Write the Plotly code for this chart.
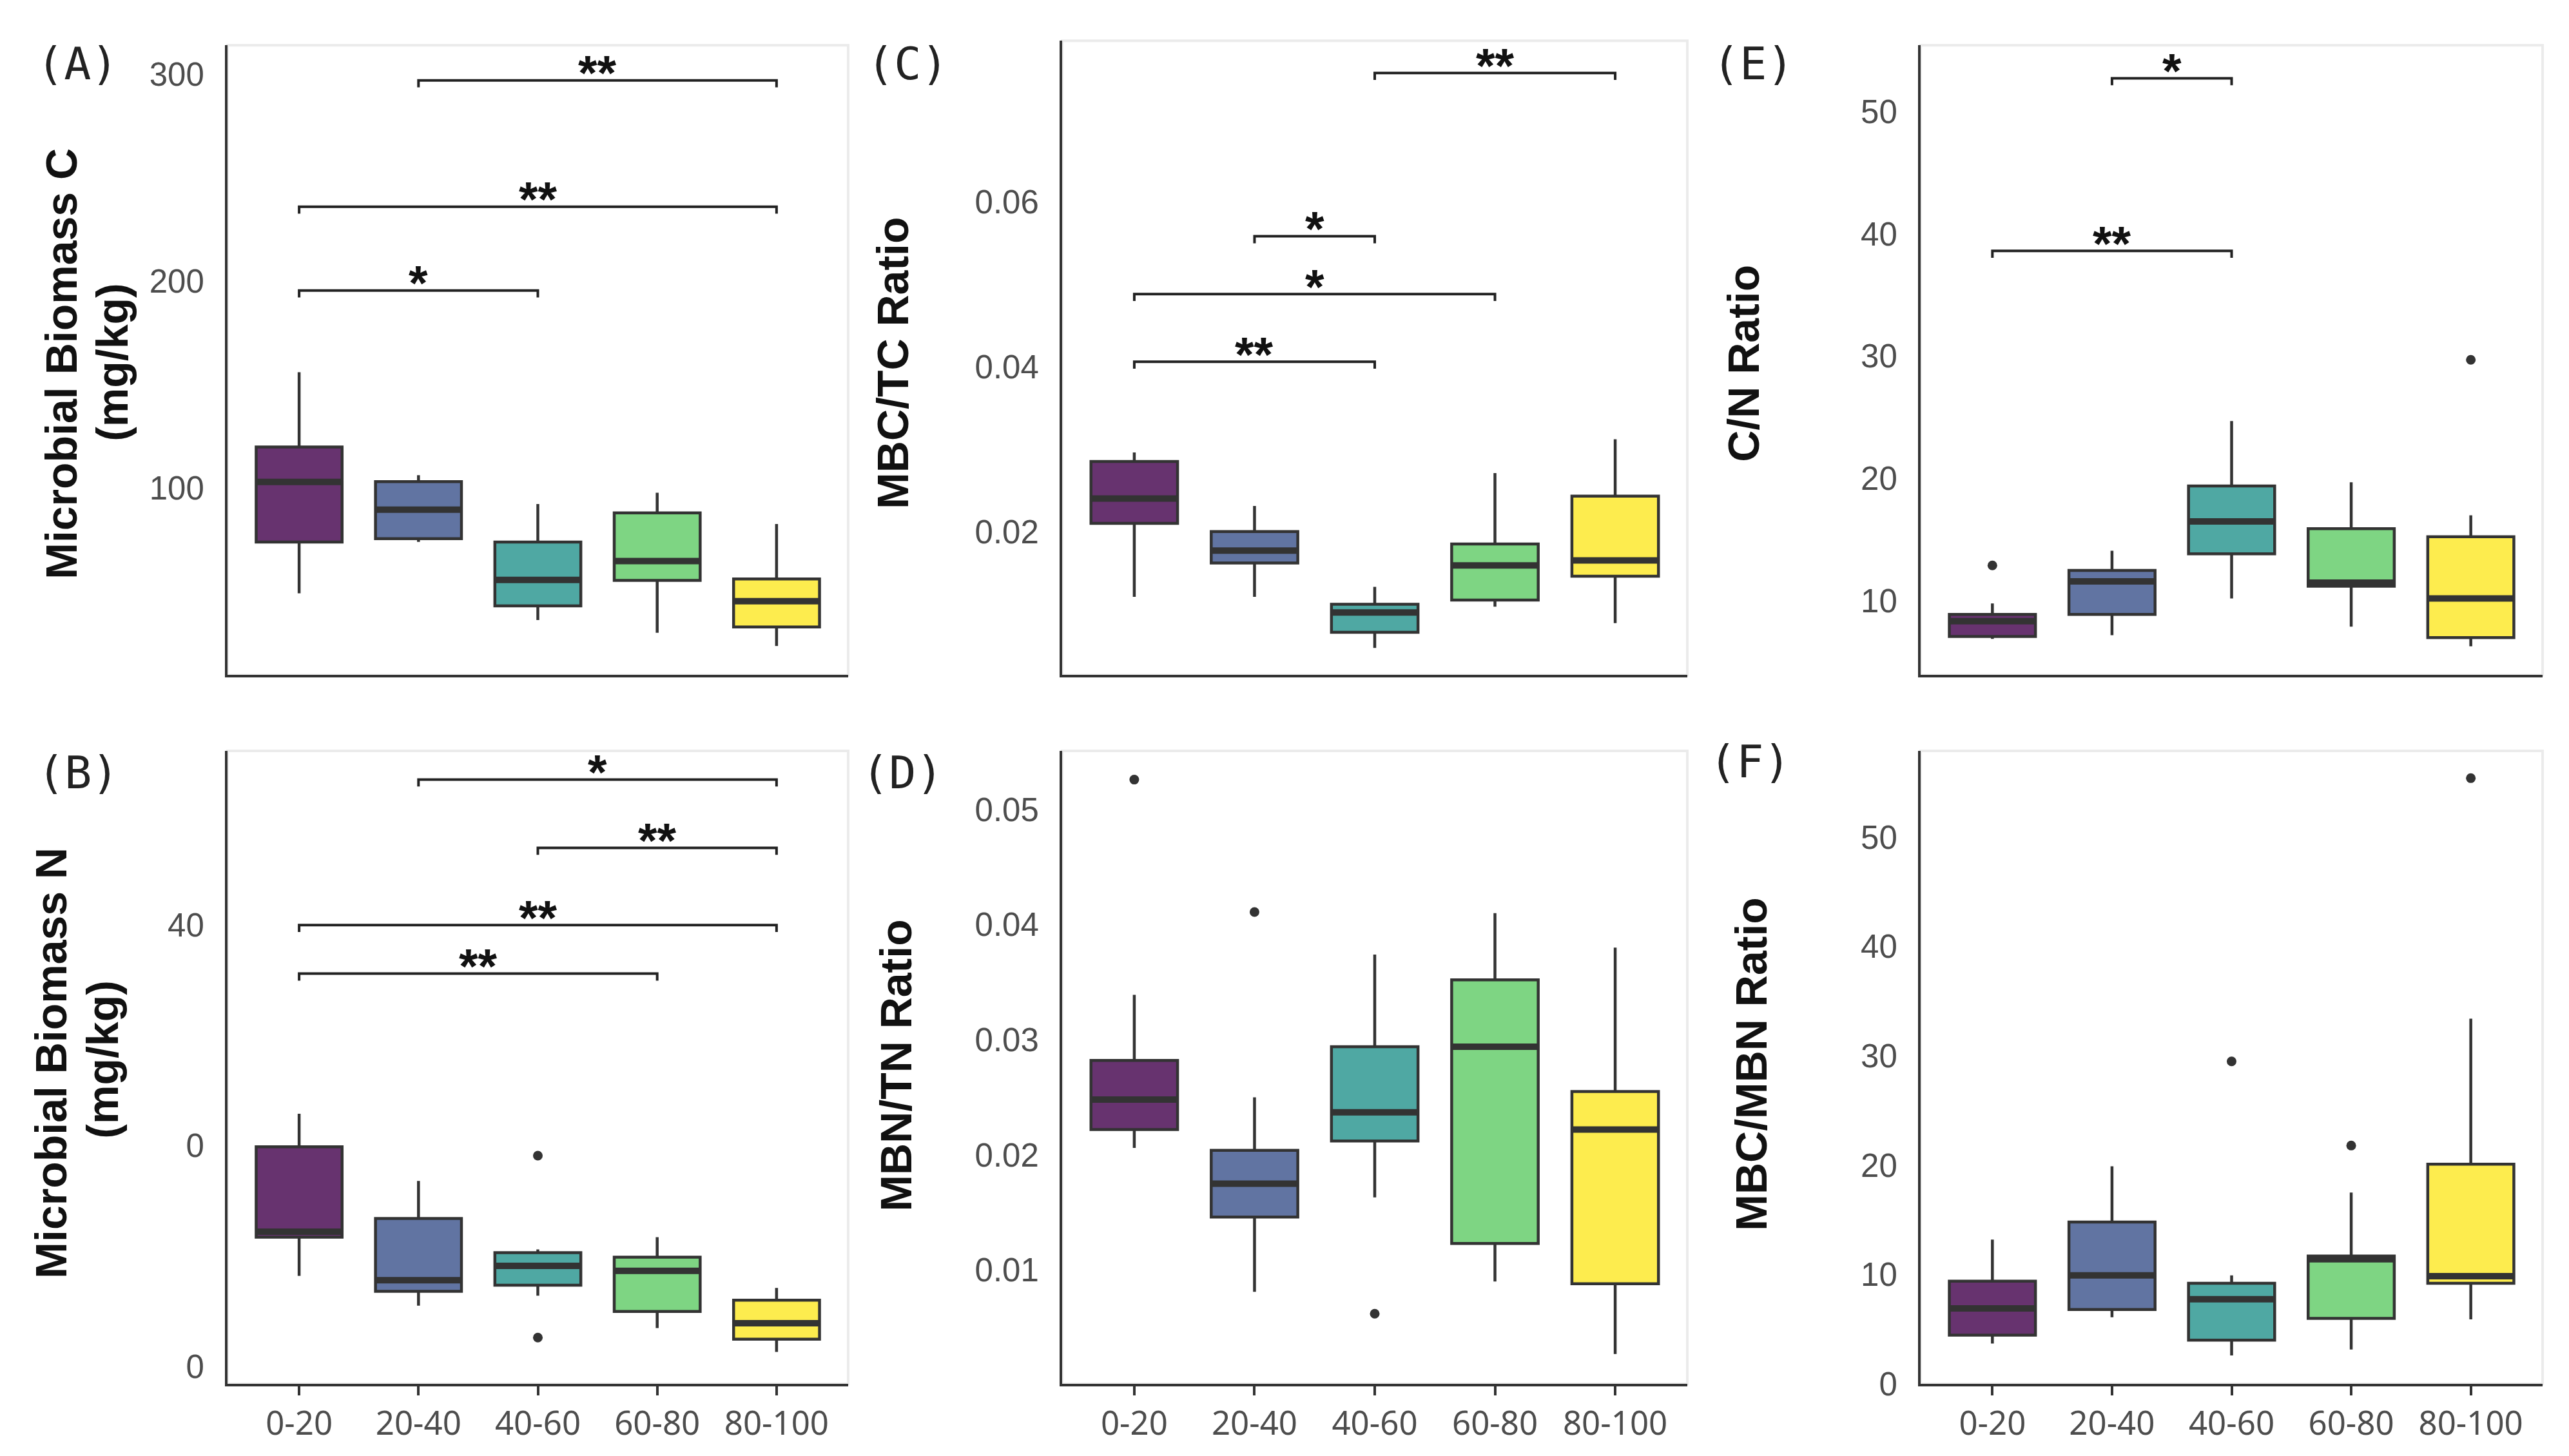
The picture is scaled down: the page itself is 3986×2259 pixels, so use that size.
import plotly.graph_objects as go

# depth classes (cm)
depths = ["0-20", "20-40", "40-60", "60-80", "80-100"]
box_colors = ["#67336f", "#6174a2", "#4fa8a3", "#7ed583", "#fdec4e"]

# (A) Microbial biomass C (mg/kg): box stats per depth
mbc_low = [49.2, 74.1, 36.3, 30.2, 23.8]
mbc_q1 = [74.0, 75.6, 43.2, 55.5, 33.0]
mbc_med = [103.0, 89.6, 55.7, 64.8, 45.4]
mbc_q3 = [119.9, 103.2, 74.0, 88.1, 56.2]
mbc_high = [156.0, 106.3, 92.4, 97.8, 82.7]
mbc_out_x = []
mbc_out_y = []
mbc_sig = [(1, 4, 297.0, "**"), (0, 4, 236.0, "**"), (0, 2, 195.5, "*")]

# (B) Microbial biomass N (mg/kg)
mbn_low = [8.2, 5.5, 6.4, 3.46, 1.3]
mbn_q1 = [11.7, 6.8, 7.35, 4.97, 2.46]
mbn_med = [12.2, 7.8, 9.1, 8.65, 3.9]
mbn_q3 = [19.9, 13.4, 10.3, 9.9, 6.0]
mbn_high = [22.9, 16.8, 10.6, 11.7, 7.1]
mbn_out_x = [2, 2]
mbn_out_y = [19.1, 2.6]
mbn_sig = [(1, 4, 53.2, "*"), (2, 4, 47.0, "**"), (0, 4, 40.0, "**"), (0, 3, 35.6, "**")]

# (C) MBC/TC ratio
mbctc_low = [0.0121, 0.0121, 0.0059, 0.0109, 0.0089]
mbctc_q1 = [0.0210, 0.0162, 0.0078, 0.0117, 0.0146]
mbctc_med = [0.0240, 0.0177, 0.0102, 0.0159, 0.0165]
mbctc_q3 = [0.0285, 0.0200, 0.0112, 0.0185, 0.0243]
mbctc_high = [0.0296, 0.0231, 0.0133, 0.0271, 0.0312]
mbctc_out_x = []
mbctc_out_y = []
mbctc_sig = [(2, 4, 0.0756, "**"), (1, 2, 0.0558, "*"), (0, 3, 0.0488, "*"), (0, 2, 0.0406, "**")]

# (D) MBN/TN ratio
mbntn_low = [0.0206, 0.0081, 0.0163, 0.0090, 0.0027]
mbntn_q1 = [0.0222, 0.0146, 0.0212, 0.0123, 0.0088]
mbntn_med = [0.0248, 0.0175, 0.0237, 0.0294, 0.0222]
mbntn_q3 = [0.0282, 0.0204, 0.0294, 0.0352, 0.0255]
mbntn_high = [0.0339, 0.0250, 0.0374, 0.0410, 0.0380]
mbntn_out_x = [0, 1, 2]
mbntn_out_y = [0.0526, 0.0411, 0.0062]
mbntn_sig = []

# (E) C/N ratio
cn_low = [6.9, 7.2, 10.2, 7.9, 6.3]
cn_q1 = [7.1, 8.9, 13.85, 11.2, 7.0]
cn_med = [8.35, 11.6, 16.5, 11.5, 10.2]
cn_q3 = [8.9, 12.5, 19.4, 15.9, 15.25]
cn_high = [9.8, 14.1, 24.7, 19.7, 17.0]
cn_out_x = [0, 4]
cn_out_y = [12.9, 29.7]
cn_sig = [(1, 2, 52.7, "*"), (0, 2, 38.6, "**")]

# (F) MBC/MBN ratio
cnmb_low = [3.7, 6.1, 2.6, 3.15, 5.9]
cnmb_q1 = [4.46, 6.8, 4.0, 6.0, 9.2]
cnmb_med = [6.9, 9.93, 7.75, 11.4, 9.85]
cnmb_q3 = [9.4, 14.8, 9.2, 11.7, 20.1]
cnmb_high = [13.2, 19.9, 9.93, 17.5, 33.4]
cnmb_out_x = [2, 3, 4]
cnmb_out_y = [29.5, 21.8, 55.4]
cnmb_sig = []

# y ticks
mbc_ticks = [100, 200, 300]
mbc_ticktext = ["100", "200", "300"]
mbn_ticks = [0, 20, 40]
mbn_ticktext = ["0", "0", "40"]
mbctc_ticks = [0.02, 0.04, 0.06]
mbctc_ticktext = ["0.02", "0.04", "0.06"]
mbntn_ticks = [0.01, 0.02, 0.03, 0.04, 0.05]
mbntn_ticktext = ["0.01", "0.02", "0.03", "0.04", "0.05"]
cn_ticks = [10, 20, 30, 40, 50]
cn_ticktext = ["10", "20", "30", "40", "50"]
cnmb_ticks = [0, 10, 20, 30, 40, 50]
cnmb_ticktext = ["0", "10", "20", "30", "40", "50"]

W, H = 3986, 2259
cols = [(345, 1308), (1640, 2610), (2972, 3937)]
rows = [(63, 1053), (1172, 2167)]

panels = [
    dict(letter="(A)", title=["Microbial Biomass C", "(mg/kg)"], col=0, row=0,
         low=mbc_low, q1=mbc_q1, med=mbc_med, q3=mbc_q3, high=mbc_high,
         ox=mbc_out_x, oy=mbc_out_y, sig=mbc_sig, yr=[9.7, 314],
         tv=mbc_ticks, tt=mbc_ticktext, tpos=[(87, 564), (166, 561)], lpos=(112, 92)),
    dict(letter="(C)", title=["MBC/TC Ratio"], col=1, row=0,
         low=mbctc_low, q1=mbctc_q1, med=mbctc_med, q3=mbctc_q3, high=mbctc_high,
         ox=mbctc_out_x, oy=mbctc_out_y, sig=mbctc_sig, yr=[0.0026, 0.0795],
         tv=mbctc_ticks, tt=mbctc_ticktext, tpos=[(1377, 563)], lpos=(1400, 92)),
    dict(letter="(E)", title=["C/N Ratio"], col=2, row=0,
         low=cn_low, q1=cn_q1, med=cn_med, q3=cn_q3, high=cn_high,
         ox=cn_out_x, oy=cn_out_y, sig=cn_sig, yr=[3.94, 55.4],
         tv=cn_ticks, tt=cn_ticktext, tpos=[(2697, 563)], lpos=(2712, 92)),
    dict(letter="(B)", title=["Microbial Biomass N", "(mg/kg)"], col=0, row=1,
         low=mbn_low, q1=mbn_q1, med=mbn_med, q3=mbn_q3, high=mbn_high,
         ox=mbn_out_x, oy=mbn_out_y, sig=mbn_sig, yr=[-1.6, 55.8],
         tv=mbn_ticks, tt=mbn_ticktext, tpos=[(71, 1663), (151, 1657)], lpos=(113, 1206)),
    dict(letter="(D)", title=["MBN/TN Ratio"], col=1, row=1,
         low=mbntn_low, q1=mbntn_q1, med=mbntn_med, q3=mbntn_q3, high=mbntn_high,
         ox=mbntn_out_x, oy=mbntn_out_y, sig=mbntn_sig, yr=[0.0001, 0.0551],
         tv=mbntn_ticks, tt=mbntn_ticktext, tpos=[(1382, 1667)], lpos=(1392, 1206)),
    dict(letter="(F)", title=["MBC/MBN Ratio"], col=2, row=1,
         low=cnmb_low, q1=cnmb_q1, med=cnmb_med, q3=cnmb_q3, high=cnmb_high,
         ox=cnmb_out_x, oy=cnmb_out_y, sig=cnmb_sig, yr=[0.0, 57.9],
         tv=cnmb_ticks, tt=cnmb_ticktext, tpos=[(2709, 1664)], lpos=(2707, 1189)),
]

BOXW = 0.72
LINE = "#333333"
fig = go.Figure()
shapes = []
annots = []

for i, p in enumerate(panels, start=1):
    xa = "x" if i == 1 else f"x{i}"
    ya = "y" if i == 1 else f"y{i}"
    x0, x1 = cols[p["col"]]
    y0, y1 = rows[p["row"]]
    if p["letter"] == "(C)":
        y0 = 56

    for k in range(len(depths)):
        fig.add_trace(go.Box(
            x=[k], q1=[p["q1"][k]], median=[p["med"][k]], q3=[p["q3"][k]],
            lowerfence=[p["low"][k]], upperfence=[p["high"][k]],
            width=BOXW, whiskerwidth=0, boxpoints=False,
            fillcolor=box_colors[k], line=dict(color=LINE, width=4.5),
            xaxis=xa, yaxis=ya, showlegend=False, hoverinfo="skip"))
        # thicker median bar, like ggplot
        shapes.append(dict(type="line", xref=xa, yref=ya,
                           x0=k - BOXW / 2, x1=k + BOXW / 2,
                           y0=p["med"][k], y1=p["med"][k],
                           line=dict(color=LINE, width=10)))

    if p["ox"]:
        fig.add_trace(go.Scatter(x=p["ox"], y=p["oy"], mode="markers",
                                 marker=dict(color=LINE, size=15),
                                 xaxis=xa, yaxis=ya, showlegend=False, hoverinfo="skip"))

    # significance brackets
    drop = 0.011 * (p["yr"][1] - p["yr"][0])
    for a, b, h, lab in p["sig"]:
        fig.add_trace(go.Scatter(x=[a, a, b, b], y=[h - drop, h, h, h - drop],
                                 mode="lines", line=dict(color="#222222", width=4),
                                 xaxis=xa, yaxis=ya, showlegend=False, hoverinfo="skip"))
        annots.append(dict(x=(a + b) / 2, y=h, xref=xa, yref=ya, text=f"<b>{lab}</b>",
                           showarrow=False, yanchor="middle", yshift=12, borderpad=0,
                           font=dict(family="Liberation Sans", size=76, color="#111111")))

    # light frame round the panel
    shapes.append(dict(type="rect", xref=f"{xa} domain", yref=f"{ya} domain",
                       x0=0, x1=1, y0=0, y1=1, layer="below",
                       line=dict(color="#ebebeb", width=4)))

    bottom = p["row"] == 1
    fig.update_layout({
        ("xaxis" if i == 1 else f"xaxis{i}"): dict(
            domain=[x0 / W, x1 / W], anchor=ya, range=[-0.6, 4.6],
            tickvals=list(range(len(depths))), ticktext=depths,
            showticklabels=bottom, ticks="outside" if bottom else "",
            ticklen=14, tickwidth=4, tickcolor=LINE,
            tickfont=dict(family="Noto Sans", size=51, color="#4d4d4d"),
            showline=True, linecolor=LINE, linewidth=4,
            showgrid=False, zeroline=False),
        ("yaxis" if i == 1 else f"yaxis{i}"): dict(
            domain=[1 - y1 / H, 1 - y0 / H], anchor=xa, range=p["yr"],
            tickvals=p["tv"], ticktext=p["tt"],
            ticks="outside", ticklen=22, tickcolor="rgba(0,0,0,0)",
            tickfont=dict(family="Liberation Sans", size=51, color="#4d4d4d"),
            showline=True, linecolor=LINE, linewidth=4,
            showgrid=False, zeroline=False),
    })

    for line_txt, (tx, ty) in zip(p["title"], p["tpos"]):
        annots.append(dict(x=tx / W, y=1 - ty / H, xref="paper", yref="paper",
                           text=f"<b>{line_txt}</b>", textangle=-90, showarrow=False,
                           xanchor="center", yanchor="middle",
                           font=dict(family="Liberation Sans", size=68, color="#111111")))
    lx, ly = p["lpos"]
    annots.append(dict(x=lx / W, y=1 - ly / H, xref="paper", yref="paper",
                       text=p["letter"], showarrow=False, xanchor="center", yanchor="middle",
                       font=dict(family="DejaVu Sans Mono", size=70, color="#222222")))

fig.update_layout(
    width=W, height=H, margin=dict(l=0, r=0, t=0, b=0),
    paper_bgcolor="white", plot_bgcolor="white",
    boxmode="overlay", shapes=shapes, annotations=annots,
)

fig.write_html("out.html")
